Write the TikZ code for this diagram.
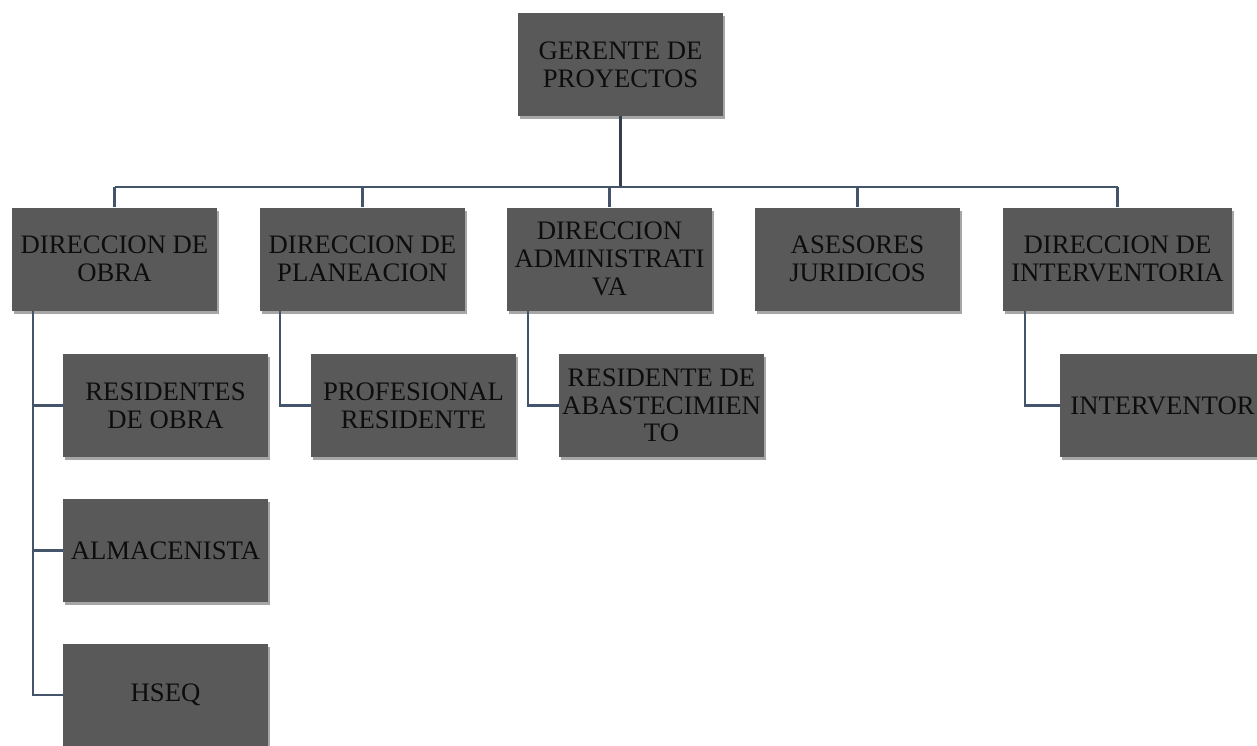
\documentclass[tikz,border=0pt]{standalone}
\usepackage{fontspec}
\setmainfont{Liberation Serif}
\usetikzlibrary{shadows}
\definecolor{boxfill}{HTML}{595959}
\definecolor{boxtext}{HTML}{0D0D0D}
\definecolor{linkc}{HTML}{44546A}
\definecolor{linktop}{HTML}{333F50}
\begin{document}
\begin{tikzpicture}[x=1pt,y=-1pt,
  orgbox/.style={fill=boxfill, text=boxtext, minimum width=205pt, minimum height=103pt,
    inner sep=0pt, align=center, font=\fontsize{26.7}{27.7}\selectfont,
    general shadow={fill=black!35, shadow xshift=1.5pt, shadow yshift=-3pt}},
  link/.style={draw=linkc, line width=2.6pt},
  toplink/.style={draw=linktop, line width=2.8pt}]
\useasboundingbox (0,0) rectangle (1257,745);

% top of the chart
\node[orgbox] (ger) at (620.5,64.5) {GERENTE DE\\PROYECTOS};

% directions
\node[orgbox] (obra)   at (114.5,259) {DIRECCION DE\\OBRA};
\node[orgbox] (plan)   at (362.5,259) {DIRECCION DE\\PLANEACION};
\node[orgbox] (admin)  at (609.5,259) {DIRECCION\\ADMINISTRATI\\VA};
\node[orgbox] (ases)   at (857.5,259) {ASESORES\\JURIDICOS};
\node[orgbox, minimum width=229pt] (interv) at (1117.5,259) {DIRECCION DE\\INTERVENTORIA};

% staff under each direction
\node[orgbox] (resobra) at (165.5,405.5) {RESIDENTES\\DE OBRA};
\node[orgbox] (alm)     at (165.5,550.5) {ALMACENISTA};
\node[orgbox] (hseq)    at (165.5,695)   {HSEQ};
\node[orgbox] (prof)    at (413.5,405.5) {PROFESIONAL\\RESIDENTE};
\node[orgbox] (resabas) at (661.5,405.5) {RESIDENTE DE\\ABASTECIMIEN\\TO};
\node[orgbox] (interventor) at (1162.5,405.5) {INTERVENTOR};

% connectors
\coordinate (bar) at (0,187);
\draw[toplink] (ger.south) -- (ger.south |- bar);
\draw[link] (obra.north |- bar) -- (interv.north |- bar);
\foreach \d in {obra,plan,admin,ases,interv}
  \draw[link] (\d.north) -- (\d.north |- bar);

\coordinate (obraT)   at ([xshift=21pt]obra.south west);
\coordinate (planT)   at ([xshift=20pt]plan.south west);
\coordinate (adminT)  at ([xshift=21pt]admin.south west);
\coordinate (intervT) at ([xshift=22pt]interv.south west);
\draw[link] (obraT) |- (resobra.west);
\draw[link] (obraT) |- (alm.west);
\draw[link] (obraT) |- (hseq.west);
\draw[link] (planT) |- (prof.west);
\draw[link] (adminT) |- (resabas.west);
\draw[link] (intervT) |- (interventor.west);
\end{tikzpicture}
\end{document}
